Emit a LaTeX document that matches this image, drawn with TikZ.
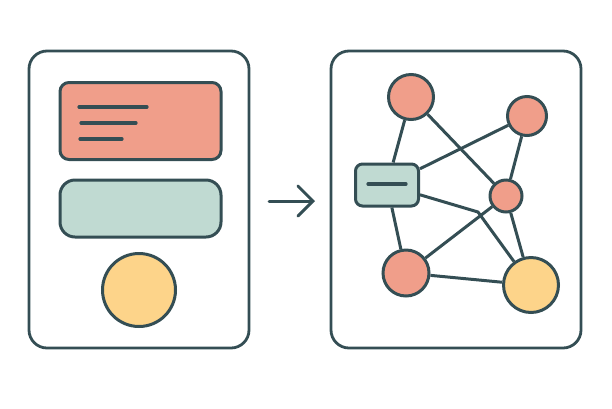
\documentclass[tikz,border=0pt]{standalone}
\usetikzlibrary{arrows.meta,backgrounds}
\definecolor{ink}{RGB}{52,78,84}
\definecolor{salmon}{RGB}{240,158,138}
\definecolor{sage}{RGB}{192,218,210}
\definecolor{butter}{RGB}{253,212,138}
\tikzset{
  panel/.style={draw=ink,line width=2.8pt,rounded corners=18pt},
  card/.style={draw=ink,line width=3pt,inner sep=0pt},
  dot/.style={circle,draw=ink,line width=3pt,inner sep=0pt,fill=salmon},
  edge/.style={draw=ink,line width=3pt},
  textline/.style={draw=ink,line width=3.2pt,line cap=round},
}
\begin{document}
\begin{tikzpicture}[x=1pt,y=-1pt]
\useasboundingbox (0,0) rectangle (612,408);
% panels
\draw[panel] (29,51) rectangle (249,348);
\draw[panel] (331,51) rectangle (581,348);
% left panel content
\node[card,fill=salmon,rounded corners=9pt,minimum width=161pt,minimum height=77pt] (doc) at (140.5,121) {};
\coordinate (l1a) at (79,107); \coordinate (l1b) at (147,107);
\coordinate (l2a) at (81,123); \coordinate (l2b) at (136,123);
\coordinate (l3a) at (80,139); \coordinate (l3b) at (122,139);
\draw[textline] (l1a) -- (l1b);
\draw[textline] (l2a) -- (l2b);
\draw[textline] (l3a) -- (l3b);
\node[card,fill=sage,rounded corners=15pt,minimum width=161pt,minimum height=57pt] (bar) at (140.5,208.5) {};
\node[dot,fill=butter,minimum size=73pt] (sun) at (139,290) {};
% arrow
\coordinate (as) at (269,201);
\coordinate (ae) at (315,201);
\draw[ink,line width=3pt,line cap=round,-{Straight Barb[length=15pt,width=30pt,line cap=round,line width=3pt]}] (as) -- (ae);
% right panel graph
\node[dot,minimum size=45pt] (A) at (411,97) {};
\node[dot,minimum size=39pt] (B) at (527,116) {};
\node[card,fill=sage,rounded corners=7pt,minimum width=63pt,minimum height=42pt] (C) at (387,185) {};
\coordinate (c1) at (368,184); \coordinate (c2) at (406,184);
\draw[textline] (c1) -- (c2);
\node[dot,minimum size=32pt] (D) at (506,196) {};
\node[dot,minimum size=46pt] (E) at (406,273) {};
\node[dot,fill=butter,minimum size=55pt] (F) at (531,285) {};
\coordinate (X) at (478,212);
\begin{scope}[on background layer]
\draw[edge] (A) -- (C);
\draw[edge] (A) -- (D);
\draw[edge] (C) -- (B);
\draw[edge] (B) -- (D);
\draw[edge] (C) -- (X) -- (F);
\draw[edge] (E) -- (D);
\draw[edge] (D) -- (F);
\draw[edge] (E) -- (F);
\draw[edge] (C) -- (E);
\end{scope}
\end{tikzpicture}
\end{document}
